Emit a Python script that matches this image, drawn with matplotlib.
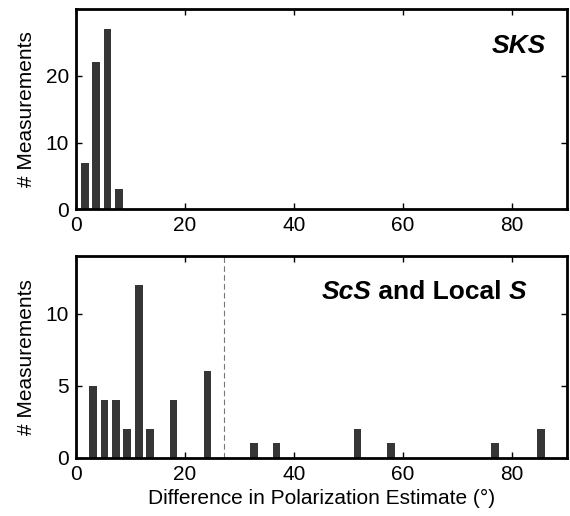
import matplotlib
matplotlib.use("Agg")
import matplotlib.pyplot as plt

plt.rcParams['font.family'] = ['Liberation Sans', 'DejaVu Sans']

# SKS histogram (bin centres, counts)
sks_bins = [1.7, 3.7, 5.8, 7.9]
sks_counts = [7, 22, 27, 3]

# ScS and local S histogram
scs_bins = [3.1, 5.2, 7.3, 9.4, 11.5, 13.6, 17.9, 24.1, 32.6, 36.8, 51.6, 57.8, 76.8, 85.3]
scs_counts = [5, 4, 4, 2, 12, 2, 4, 6, 1, 1, 2, 1, 1, 2]

cutoff = 27.2
bar_color = '#363636'

fig = plt.figure(figsize=(5.7, 5.16), dpi=100)
ax1 = fig.add_axes([0.1333, 0.594, 0.861, 0.3895])
ax2 = fig.add_axes([0.1333, 0.113, 0.861, 0.391])

def style(ax, ymax, yticks):
    ax.set_xlim(0, 90)
    ax.set_ylim(0, ymax)
    ax.set_xticks([0, 20, 40, 60, 80])
    ax.set_yticks(yticks)
    ax.tick_params(direction='in', top=True, right=True, length=4, width=1,
                   labelsize=15, pad=5)
    for s in ax.spines.values():
        s.set_linewidth(2)
    ax.set_ylabel("# Measurements", fontsize=15, labelpad=7)

# -------------------------------
# top: SKS
# -------------------------------
ax1.bar(sks_bins, sks_counts, width=1.4, color=bar_color)
style(ax1, 30, [0, 10, 20])
ax1.text(0.957, 0.78, "SKS", transform=ax1.transAxes, ha='right', va='baseline',
         fontsize=19, fontweight='bold', fontstyle='italic')

# -------------------------------
# bottom: ScS and local S
# -------------------------------
ax2.bar(scs_bins, scs_counts, width=1.4, color=bar_color)
ax2.axvline(cutoff, color='#777777', linestyle=(0, (5, 3)), linewidth=0.8)
style(ax2, 14, [0, 5, 10])
ax2.set_xlabel("Difference in Polarization Estimate (°)", fontsize=15, labelpad=4)

t1 = ax2.text(0.5, 0.785, "ScS", transform=ax2.transAxes, ha='left', va='baseline',
              fontsize=19, fontweight='bold', fontstyle='italic')
t2 = ax2.annotate(" and Local ", xy=(1, 0), xycoords=t1, ha='left', va='bottom',
                  fontsize=19, fontweight='bold')
ax2.annotate("S", xy=(1, 0), xycoords=t2, ha='left', va='bottom',
             fontsize=19, fontweight='bold', fontstyle='italic')

plt.savefig("out.png", dpi=100)
